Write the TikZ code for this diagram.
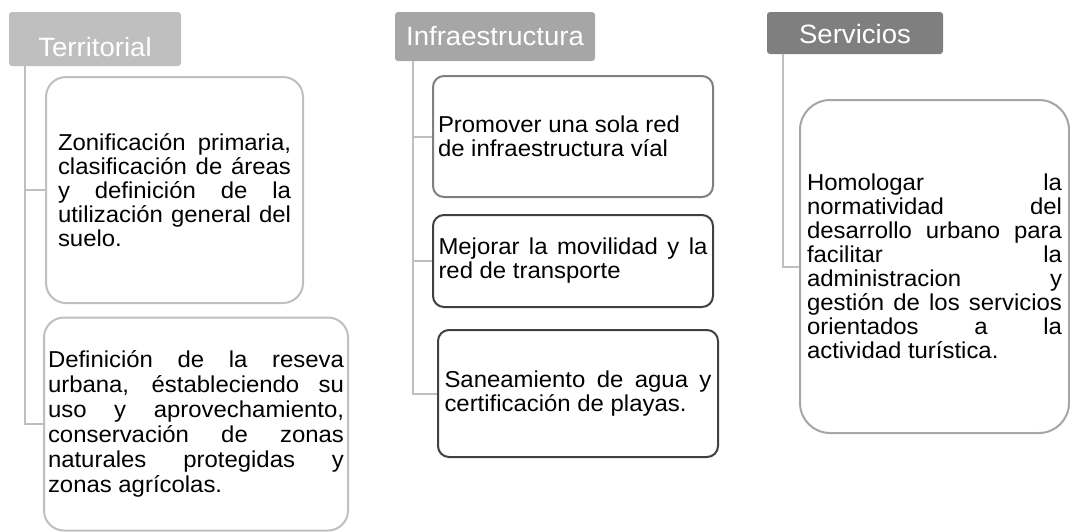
\documentclass[tikz,border=0pt]{standalone}
\usepackage{fontspec}
\setmainfont{Liberation Sans}[FakeStretch=1.04]
\usepackage{tikz}
\usetikzlibrary{positioning}
\definecolor{paleline}{HTML}{BFBFBF}
\definecolor{midgray}{HTML}{A6A6A6}
\definecolor{stone}{HTML}{7F7F7F}
\definecolor{charcoal}{HTML}{404040}
\tolerance=10000
\hyphenpenalty=10000

\begin{document}
\begin{tikzpicture}[
  x=1pt,y=-1pt,
  hdr/.style={rounded corners=3pt,inner sep=0pt,text=white,font=\fontsize{26.5}{28}\selectfont},
  leaf/.style={draw,line width=2pt,fill=white,inner sep=0pt,align=justify,font=\fontsize{23}{24}\selectfont},
  conn/.style={draw=paleline,line width=2pt}
]
\useasboundingbox (0,0) rectangle (1070,531);
% headers
\node[hdr,fill=paleline,minimum width=172pt,text height=44.5pt,text depth=9.5pt] (terr) at (95,39) {Territorial};
\node[hdr,fill=midgray,minimum width=200pt,text height=33pt,text depth=16pt] (infra) at (495,36.5) {Infraestructura};
\node[hdr,fill=stone,minimum width=176pt,text height=31pt,text depth=11pt] (serv) at (855,33) {Servicios};
\coordinate (tdown) at ([xshift=16pt]terr.south west);
\coordinate (idown) at ([xshift=18pt]infra.south west);
\coordinate (sdown) at ([xshift=16pt]serv.south west);
% territorial
\node[leaf,draw=paleline,rounded corners=20pt,minimum width=257pt,minimum height=226pt,text width=233pt] (t1) at (174.5,190)
  {Zonificación primaria,\linebreak clasificación de áreas\linebreak y definición de la\linebreak utilización general del\linebreak suelo.};
\node[leaf,draw=paleline,rounded corners=20pt,minimum width=304pt,minimum height=213pt,text width=296pt,
  font=\fontsize{23}{25}\selectfont] (t2) at (196,424)
  {Definición de la reseva\linebreak urbana, éstableciendo su\linebreak uso y aprovechamiento,\linebreak conservación de zonas\linebreak naturales protegidas y\linebreak zonas agrícolas.};
% infraestructura
\node[leaf,draw=stone,rounded corners=11pt,minimum width=280pt,minimum height=121pt,text width=270pt] (i1) at (573,136.5)
  {Promover una sola red\newline de infraestructura víal};
\node[leaf,draw=charcoal,rounded corners=11pt,minimum width=280pt,minimum height=92pt,text width=269pt,below=16pt of i1] (i2)
  {Mejorar la movilidad y la\linebreak red de transporte};
\node[leaf,draw=charcoal,rounded corners=11pt,minimum width=280pt,minimum height=127pt,text width=267pt,below=21pt of i2,xshift=5pt] (i3)
  {Saneamiento de agua y\linebreak certificación de playas.};
% servicios
\node[leaf,draw=midgray,rounded corners=30pt,minimum width=269pt,minimum height=333pt,text width=255pt] (s1) at (934.5,266.5)
  {Homologar la\linebreak normatividad del\linebreak desarrollo urbano para\linebreak facilitar la\linebreak administracion y\linebreak gestión de los servicios\linebreak orientados a la\linebreak actividad turística.};
% connectors
\draw[conn] (tdown) |- (t1.west);
\draw[conn] (tdown) |- (t2.west);
\draw[conn] (idown) |- (i1.west);
\draw[conn] (idown) |- (i2.west);
\draw[conn] (idown) |- (i3.west);
\draw[conn] (sdown) |- (s1.west);
\end{tikzpicture}
\end{document}
